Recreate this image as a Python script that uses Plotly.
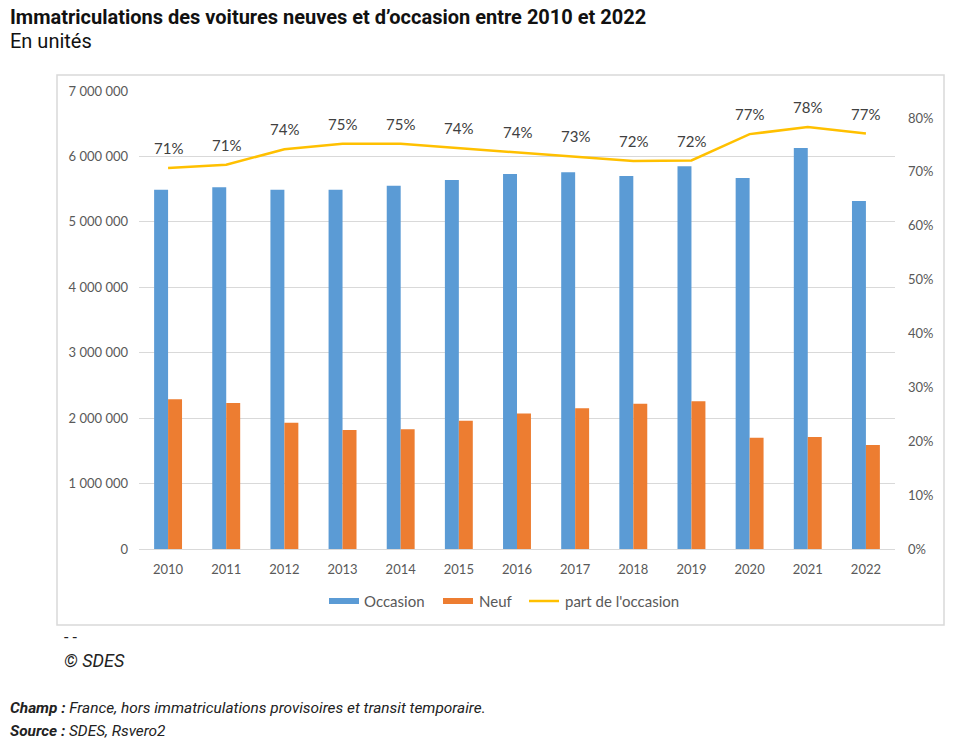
import plotly.graph_objects as go

years = [2010, 2011, 2012, 2013, 2014, 2015, 2016, 2017, 2018, 2019, 2020, 2021, 2022]
occasion = [5490000, 5530000, 5490000, 5490000, 5550000, 5640000, 5730000, 5760000,
            5700000, 5850000, 5670000, 6130000, 5320000]
neuf = [2290000, 2230000, 1930000, 1820000, 1830000, 1960000, 2070000, 2150000,
        2220000, 2260000, 1700000, 1710000, 1590000]
part = [0.707, 0.713, 0.742, 0.752, 0.752, 0.744, 0.737, 0.729, 0.720, 0.721, 0.770, 0.783, 0.771]
left_ticks = [0, 1000000, 2000000, 3000000, 4000000, 5000000, 6000000, 7000000]
right_ticks = [0, 0.1, 0.2, 0.3, 0.4, 0.5, 0.6, 0.7, 0.8]

W, H = 954, 747
# plot area in window pixels
PX0, PX1, PY0, PY1 = 139, 895, 91, 549
L, R, T, B = PX0, W - PX1, PY0, H - PY1
PW, PH = PX1 - PX0, PY1 - PY0


def px(x):
    return (x - PX0) / PW


def py(y):
    return (PY1 - y) / PH


lato = "Lato, Carlito, sans-serif"
tick_font = dict(family=lato, size=13, color="#595959")

fig = go.Figure()
fig.add_trace(go.Bar(x=years, y=occasion, name="Occasion", marker_color="#5B9BD5",
                     marker_line_width=0))
fig.add_trace(go.Bar(x=years, y=neuf, name="Neuf", marker_color="#ED7D31",
                     marker_line_width=0))
fig.add_trace(go.Scatter(x=years, y=part, name="part de l'occasion", mode="lines",
                         line=dict(color="#FFC000", width=2.5), yaxis="y2"))

annotations = []
for yr, v in zip(years, part):
    annotations.append(dict(x=yr, y=v, xref="x", yref="y2", yshift=20,
                            text=f"{round(v * 100)}%", showarrow=False,
                            font=dict(family=lato, size=15, color="#404040")))

texts = [
    ("Immatriculations des voitures neuves et d\u2019occasion entre 2010 et 2022", 8, 17,
     dict(family="Roboto", size=20, color="#111", weight="bold")),
    ("En unités", 8, 41, dict(family="Roboto", size=20, color="#111")),
    ("- -", 62, 637, dict(family="Roboto", size=16, color="#222")),
    ("<i>© SDES</i>", 62, 660, dict(family="Roboto", size=18, color="#222")),
    ("<b><i>Champ :</i></b><i> France, hors immatriculations provisoires et transit temporaire.</i>", 8, 708,
     dict(family="Roboto", size=15.4, color="#222")),
    ("<b><i>Source :</i></b><i> SDES, Rsvero2</i>", 8, 731, dict(family="Roboto", size=15.4, color="#222")),
    ("Occasion", 362, 601, dict(family=lato, size=15, color="#595959")),
    ("Neuf", 477, 601, dict(family=lato, size=15, color="#595959")),
    ("part de l'occasion", 563, 601, dict(family=lato, size=15, color="#595959")),
]
for text, x, y, f in texts:
    annotations.append(dict(x=px(x), y=py(y), xref="paper", yref="paper", xanchor="left",
                            yanchor="middle", text=text, showarrow=False, font=f))

shapes = [
    dict(type="rect", xref="paper", yref="paper", x0=px(57), x1=px(944),
         y0=py(625), y1=py(75), line=dict(color="#d9d9d9", width=1.5),
         fillcolor="rgba(0,0,0,0)", layer="below"),
    dict(type="rect", xref="paper", yref="paper", x0=px(329), x1=px(359),
         y0=py(604), y1=py(598), line_width=0, fillcolor="#5B9BD5"),
    dict(type="rect", xref="paper", yref="paper", x0=px(443), x1=px(473),
         y0=py(604), y1=py(598), line_width=0, fillcolor="#ED7D31"),
    dict(type="line", xref="paper", yref="paper", x0=px(529), x1=px(559),
         y0=py(601), y1=py(601), line=dict(color="#FFC000", width=2.5)),
]

fig.update_layout(
    width=W, height=H,
    margin=dict(l=L, r=R, t=T, b=B, autoexpand=False),
    paper_bgcolor="white", plot_bgcolor="white",
    separators=", ",
    barmode="group", bargap=0.52, bargroupgap=0,
    showlegend=False,
    xaxis=dict(tickmode="array", tickvals=years, ticktext=[str(y) for y in years],
               range=[years[0] - 0.5, years[-1] + 0.5], showgrid=False, showline=True,
               linecolor="#d9d9d9", linewidth=1, ticks="", tickfont=tick_font,
               ticklabelstandoff=8, zeroline=False),
    yaxis=dict(range=[0, 7000000], tickvals=left_ticks, tickformat=",d", showgrid=True,
               gridcolor="#d9d9d9", gridwidth=1, zeroline=False, showline=False, ticks="",
               tickfont=tick_font, ticklabelstandoff=10),
    yaxis2=dict(overlaying="y", side="right", range=[0, 0.85], tickvals=right_ticks,
                tickformat=".0%", showgrid=False, zeroline=False, showline=False, ticks="",
                tickfont=tick_font, ticklabelstandoff=12),
    annotations=annotations,
    shapes=shapes,
    hovermode=False,
)

fig.write_html("out.html", config={"displayModeBar": False},
               post_script="document.body.style.margin='0';document.body.style.overflow='hidden';")
